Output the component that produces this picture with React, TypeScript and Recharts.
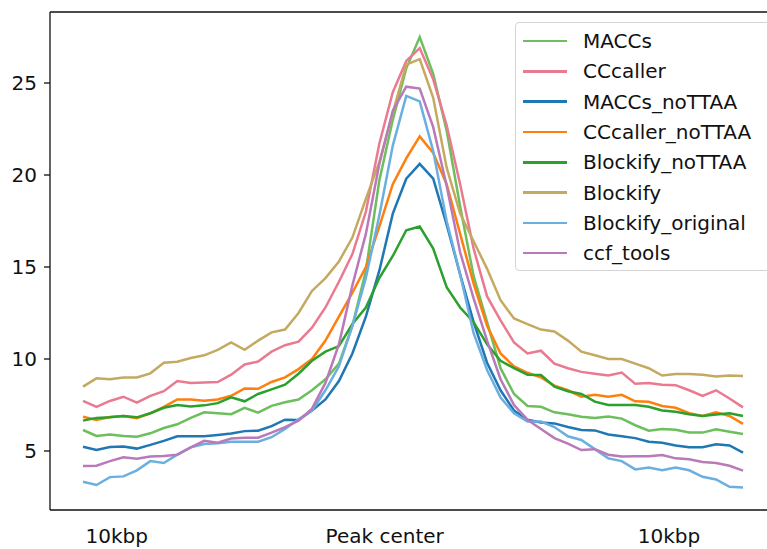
import { LineChart, Line, XAxis, YAxis, Legend } from 'recharts'

// bins across the window, 0 = left edge (-10kbp), 49 = right edge (+10kbp)
const bins = Array.from({ length: 50 }, (_, i) => i)

const maccs = [
  6.14, 5.82, 5.9, 5.82, 5.78, 5.96, 6.25, 6.45, 6.8, 7.1,
  7.05, 7.0, 7.35, 7.08, 7.45, 7.65, 7.8, 8.3, 8.9, 9.75,
  11.8, 14.8, 19.7, 23.0, 25.8, 27.5, 25.5, 22.4, 18.3, 14.5,
  12.0, 9.5, 8.1, 7.45, 7.4, 7.1, 7.0, 6.86, 6.8, 6.88,
  6.76, 6.4, 6.1, 6.2, 6.15, 6.0, 6.0, 6.18, 6.05, 5.92,
]
const cccaller = [
  7.72, 7.4, 7.72, 7.95, 7.63, 8.0, 8.25, 8.8, 8.7, 8.72,
  8.75, 9.15, 9.7, 9.86, 10.4, 10.75, 10.94, 11.7, 12.8, 14.2,
  15.7, 18.0, 21.7, 24.5, 26.2, 26.9, 25.2, 22.7, 19.5, 16.0,
  13.4, 12.1, 10.9, 10.3, 10.45, 9.75, 9.5, 9.3, 9.2, 9.1,
  9.26, 8.65, 8.7, 8.6, 8.58, 8.3, 8.0, 8.3, 7.85, 7.37,
]
const maccsNoTTAA = [
  5.23, 5.05, 5.22, 5.25, 5.13, 5.33, 5.55, 5.8, 5.8, 5.8,
  5.87, 5.95, 6.08, 6.1, 6.35, 6.7, 6.68, 7.2, 7.8, 8.8,
  10.3, 12.3, 14.8, 17.9, 19.8, 20.6, 19.8, 17.3, 14.6, 12.0,
  9.8, 8.3, 7.2, 6.7, 6.55, 6.5, 6.3, 6.14, 6.12, 5.9,
  5.8, 5.7, 5.5, 5.45, 5.3, 5.2, 5.2, 5.37, 5.3, 4.91,
]
const cccallerNoTTAA = [
  6.86, 6.68, 6.85, 6.9, 6.78, 7.05, 7.4, 7.8, 7.8, 7.73,
  7.8, 8.0, 8.4, 8.38, 8.75, 9.0, 9.45, 10.0, 11.0, 12.3,
  13.6, 15.0, 17.2, 19.5, 20.9, 22.1, 21.2, 19.5, 16.8, 14.1,
  11.8, 10.3, 9.6, 9.25, 9.0, 8.55, 8.3, 7.95, 8.05, 7.95,
  8.05, 7.7, 7.68, 7.45, 7.35, 7.05, 6.9, 7.1, 6.9, 6.47,
]
const blockifyNoTTAA = [
  6.65, 6.8, 6.83, 6.9, 6.83, 7.05, 7.35, 7.5, 7.42, 7.48,
  7.6, 7.92, 7.7, 8.1, 8.35, 8.6, 9.2, 9.9, 10.4, 10.7,
  11.9, 12.8, 14.4, 15.6, 17.0, 17.2, 16.0, 13.9, 12.8, 12.0,
  10.8, 9.9, 9.5, 9.15, 9.13, 8.5, 8.25, 8.1, 7.68, 7.5,
  7.5, 7.5, 7.4, 7.2, 7.13, 7.0, 6.9, 6.98, 7.05, 6.9,
]
const blockify = [
  8.5, 8.95, 8.9, 9.0, 9.0, 9.22, 9.8, 9.85, 10.05, 10.2,
  10.5, 10.9, 10.5, 11.0, 11.45, 11.6, 12.5, 13.7, 14.4, 15.3,
  16.6, 18.7, 20.7, 23.4, 26.0, 26.3, 24.2, 20.4, 17.9, 16.4,
  14.9, 13.2, 12.2, 11.9, 11.6, 11.5, 11.0, 10.4, 10.2, 10.0,
  10.0, 9.75, 9.5, 9.1, 9.18, 9.18, 9.15, 9.05, 9.1, 9.08,
]
const blockifyOriginal = [
  3.33, 3.15, 3.58, 3.62, 3.95, 4.45, 4.35, 4.8, 5.2, 5.38,
  5.42, 5.5, 5.5, 5.5, 5.75, 6.2, 6.72, 7.2, 8.3, 9.6,
  11.8, 14.4, 17.8, 21.6, 24.3, 24.0, 21.3, 17.5, 14.6, 11.4,
  9.4, 7.9, 7.05, 6.6, 6.6, 6.3, 5.8, 5.6, 5.1, 4.6,
  4.45, 4.0, 4.1, 3.95, 4.1, 3.95, 3.6, 3.45, 3.05, 3.02,
]
const ccfTools = [
  4.18, 4.2, 4.45, 4.66, 4.58, 4.7, 4.73, 4.8, 5.2, 5.55,
  5.45, 5.68, 5.72, 5.72, 6.0, 6.3, 6.65, 7.3, 8.7, 10.8,
  14.0, 16.8, 20.6, 23.5, 24.8, 24.7, 22.6, 19.4, 15.8, 13.3,
  11.0, 8.9, 7.5, 6.7, 6.2, 5.7, 5.4, 5.05, 5.1, 4.8,
  4.7, 4.72, 4.72, 4.78, 4.6, 4.55, 4.4, 4.35, 4.2, 3.93,
]

const xTickPos = [2.5, 22.4, 43.5]
const xTickLabels = ['10kbp', 'Peak center', '10kbp']
const yTicks = [5, 10, 15, 20, 25]

const series = [
  { key: 'MACCs', values: maccs, color: '#6cbf5c' },
  { key: 'CCcaller', values: cccaller, color: '#e97a90' },
  { key: 'MACCs_noTTAA', values: maccsNoTTAA, color: '#1f77b4' },
  { key: 'CCcaller_noTTAA', values: cccallerNoTTAA, color: '#ff7f0e' },
  { key: 'Blockify_noTTAA', values: blockifyNoTTAA, color: '#2ca02c' },
  { key: 'Blockify', values: blockify, color: '#c4aa60' },
  { key: 'Blockify_original', values: blockifyOriginal, color: '#6aafe0' },
  { key: 'ccf_tools', values: ccfTools, color: '#b87ab8' },
]

const data = bins.map((b, i) => {
  const row: Record<string, number> = { bin: b }
  series.forEach((s) => { row[s.key] = s.values[i] })
  return row
})

const font = '"DejaVu Sans", sans-serif'

// keep the plotting order (recharts sorts legend payload by name otherwise)
function LegendBox() {
  return (
    <div
      style={{
        border: '1px solid #d4d4d4',
        borderRadius: 4,
        background: 'rgba(255,255,255,0.85)',
        padding: '3px 0 2px 0',
        fontFamily: font,
        fontSize: 20,
        color: '#111',
      }}
    >
      {series.map((s) => (
        <div key={s.key} style={{ display: 'flex', alignItems: 'center', height: 30.3 }}>
          <div style={{ width: 44, height: 2.5, background: s.color, marginLeft: 7, marginRight: 16 }} />
          <span style={{ lineHeight: '20px' }}>{s.key}</span>
        </div>
      ))}
    </div>
  )
}

export default function App() {
  return (
    <div style={{ position: 'absolute', left: 0, top: 0, width: 767, height: 549, overflow: 'hidden', background: '#fff' }}>
      <LineChart width={800} height={549} data={data} margin={{ top: 11, right: 24, left: 0, bottom: 0 }}>
        <XAxis
          xAxisId="top"
          orientation="top"
          dataKey="bin"
          type="number"
          domain={[-2.45, 51.45]}
          height={1}
          tick={false}
          tickLine={false}
          axisLine={{ stroke: '#111', strokeWidth: 1.3 }}
        />
        <XAxis
          dataKey="bin"
          type="number"
          domain={[-2.45, 51.45]}
          allowDataOverflow
          ticks={xTickPos}
          tickFormatter={(v: number) => xTickLabels[xTickPos.indexOf(v)] ?? ''}
          tickLine={false}
          tickSize={0}
          tickMargin={19}
          height={39}
          interval={0}
          axisLine={{ stroke: '#111', strokeWidth: 1.3 }}
          tick={{ fontFamily: font, fontSize: 20, fill: '#111' }}
        />
        <YAxis
          type="number"
          domain={[1.793, 28.86]}
          allowDataOverflow
          ticks={yTicks}
          width={50}
          tickSize={6}
          tickMargin={7}
          axisLine={{ stroke: '#111', strokeWidth: 1.3 }}
          tickLine={{ stroke: '#111', strokeWidth: 1.3 }}
          tick={{ fontFamily: font, fontSize: 20, fill: '#111' }}
        />
        <Legend
          layout="vertical"
          align="center"
          verticalAlign="middle"
          content={<LegendBox />}
          wrapperStyle={{ position: 'absolute', left: 515, top: 22, width: 270, height: 'auto' }}
        />
        {series.map((s) => (
          <Line
            key={s.key}
            xAxisId={0}
            dataKey={s.key}
            name={s.key}
            stroke={s.color}
            strokeWidth={2.5}
            dot={false}
            type="linear"
            isAnimationActive={false}
          />
        ))}
      </LineChart>
    </div>
  )
}
